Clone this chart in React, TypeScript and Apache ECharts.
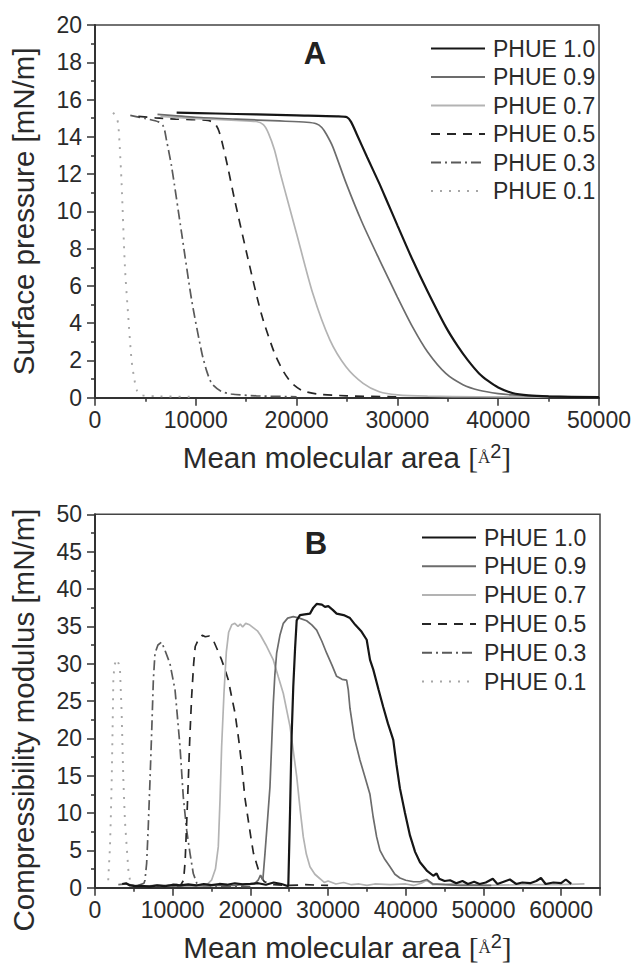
import React, { useEffect, useRef } from 'react';
import * as echarts from 'echarts';

const FONT = '"Liberation Sans", Arial, sans-serif';
const SERIF = '"Liberation Serif", "Times New Roman", serif';

const seriesNames = ['PHUE 1.0', 'PHUE 0.9', 'PHUE 0.7', 'PHUE 0.5', 'PHUE 0.3', 'PHUE 0.1'];

const xTicksA = [0, 10000, 20000, 30000, 40000, 50000];
const yTicksA = [0, 2, 4, 6, 8, 10, 12, 14, 16, 18, 20];
const xTicksB = [0, 10000, 20000, 30000, 40000, 50000, 60000];
const yTicksB = [0, 5, 10, 15, 20, 25, 30, 35, 40, 45, 50];

// Panel A: surface pressure isotherms [area, mN/m]
const phue10A = [[8100, 15.3], [12000, 15.25], [16000, 15.2], [20000, 15.15], [24000, 15.1], [25000, 15.05], [25400, 14.8], [26000, 14.1], [27000, 12.9], [28200, 11.5], [29000, 10.5], [30000, 9.25], [31500, 7.4], [33000, 5.7], [34800, 3.8], [36000, 2.75], [37000, 2.0], [38100, 1.3], [39000, 0.9], [40000, 0.55], [41400, 0.25], [43000, 0.12], [45000, 0.07], [50000, 0.03]];
const phue09A = [[6200, 15.2], [10000, 15.05], [14000, 14.95], [18300, 14.85], [21000, 14.78], [21950, 14.7], [22500, 14.5], [22940, 14.15], [23600, 13.45], [24920, 11.5], [26500, 9.4], [28220, 7.4], [30000, 5.4], [31500, 3.8], [33000, 2.45], [34800, 1.3], [36500, 0.7], [38100, 0.4], [40000, 0.22], [41400, 0.15], [44000, 0.08], [47000, 0.04]];
const phue07A = [[6500, 15.1], [10000, 14.98], [14000, 14.88], [16000, 14.82], [16700, 14.65], [17200, 14.2], [17800, 13.3], [18400, 12.0], [19100, 10.6], [20000, 8.8], [21600, 5.6], [23300, 3.1], [24900, 1.66], [26600, 0.77], [28200, 0.32], [30000, 0.15], [33000, 0.08], [38000, 0.05], [45000, 0.03]];
const phue05A = [[4300, 15.1], [6000, 15.02], [8000, 14.95], [11200, 14.88], [11900, 14.7], [12300, 14.3], [12700, 13.5], [13200, 12.3], [13860, 10.6], [15200, 7.4], [16500, 4.5], [17800, 2.4], [18700, 1.4], [19500, 0.8], [20500, 0.4], [22000, 0.2], [25000, 0.1], [30000, 0.05]];
const phue03A = [[3500, 15.15], [5000, 14.98], [6300, 14.8], [6800, 14.55], [7100, 13.8], [7600, 12.4], [8600, 8.8], [9600, 5.2], [10600, 2.4], [11100, 1.4], [11600, 0.75], [12500, 0.35], [13500, 0.2], [16000, 0.1], [20000, 0.05]];
const phue01A = [[1800, 15.3], [2150, 15.0], [2300, 14.7], [2450, 13.5], [2640, 11.5], [2970, 7.0], [3300, 4.35], [3630, 2.0], [3900, 1.0], [4150, 0.4], [4500, 0.15], [6000, 0.08], [10000, 0.05]];

// Panel B: compressibility modulus [area, mN/m]
const phue10B = [[3500, 0.5], [4000, 0.6], [4500, 0.3], [5200, 0.2], [6000, 0.25], [7000, 0.15], [8000, 0.3], [9000, 0.2], [10000, 0.4], [11000, 0.3], [12000, 0.45], [13000, 0.3], [14000, 0.5], [15000, 0.35], [16000, 0.5], [17000, 0.4], [18000, 0.6], [19000, 0.45], [20000, 0.5], [21000, 0.6], [22000, 0.4], [23000, 0.7], [24000, 0.5], [24880, 0.2], [25100, 10], [25300, 20], [25520, 26.9], [25750, 32], [25960, 35.8], [26380, 36.5], [27000, 36.6], [27670, 36.7], [28100, 37.5], [28530, 38.0], [29200, 37.9], [29600, 37.6], [30030, 37.7], [30600, 37.2], [31100, 36.7], [32000, 36.5], [32820, 36.1], [33500, 35.2], [34300, 34.3], [34970, 33.2], [35400, 30.5], [35820, 29.2], [36500, 26.5], [37100, 24.2], [37700, 22], [38390, 19.8], [38800, 16.5], [39250, 13.3], [39900, 10], [40540, 7.0], [41200, 4.8], [41830, 3.4], [42700, 2.3], [43540, 1.6], [43970, 1.9], [44300, 1.2], [45000, 0.9], [45700, 1.0], [46500, 0.6], [47300, 0.9], [48000, 0.5], [48800, 0.8], [49500, 0.5], [50300, 0.7], [51200, 1.2], [51800, 0.5], [52600, 0.8], [53400, 1.1], [54200, 0.5], [55000, 0.7], [56000, 0.6], [56800, 0.9], [57400, 1.3], [58000, 0.5], [59000, 0.7], [60000, 0.6], [60600, 1.1], [61300, 0.5]];
const phue09B = [[3000, 0.4], [4000, 0.5], [5000, 0.3], [6500, 0.2], [8000, 0.3], [10000, 0.2], [12000, 0.3], [14000, 0.25], [16000, 0.35], [18000, 0.3], [19500, 0.5], [20500, 0.5], [21000, 1.0], [21300, 1.7], [21600, 1.0], [21880, 4.6], [22200, 9], [22520, 13.5], [22750, 19.5], [22950, 24.7], [23150, 28.5], [23380, 31.4], [23800, 33.8], [24240, 35.4], [24800, 36.1], [25520, 36.3], [26300, 36.1], [27240, 35.75], [27900, 35.2], [28530, 34.5], [29200, 33.0], [29820, 31.4], [30500, 29.8], [31100, 28.3], [31800, 27.9], [32390, 27.8], [32600, 26.5], [32820, 24], [33400, 20], [34100, 17.1], [34700, 15], [35390, 12.5], [35800, 9.5], [36250, 6.8], [36680, 5.0], [37300, 3.8], [37970, 2.8], [38600, 1.8], [39250, 1.3], [40000, 1.0], [41000, 0.8], [41830, 0.8], [42690, 1.1], [43500, 0.5], [45000, 0.4], [47000, 0.3], [49000, 0.35], [51000, 0.3]];
const phue07B = [[8000, 0.2], [9500, 0.3], [10500, 0.5], [11000, 0.2], [12000, 0.3], [13000, 0.3], [14000, 0.4], [14500, 0.5], [15000, 1.0], [15500, 2.5], [15870, 5.5], [16100, 12], [16300, 18.9], [16600, 26], [16900, 31.5], [17200, 34.2], [17600, 35.2], [18000, 35.4], [18400, 35.0], [18700, 35.3], [19000, 34.9], [19400, 35.4], [19900, 35.2], [20400, 34.8], [20900, 34.4], [21300, 33.8], [22000, 32.5], [22950, 30.5], [23600, 28.2], [24240, 26], [25100, 21.6], [25500, 18.5], [25960, 14.9], [26400, 10.5], [26810, 6.8], [27200, 4.5], [27670, 2.8], [28300, 1.8], [28960, 1.2], [29500, 0.7], [30000, 0.9], [31000, 0.5], [32000, 0.7], [33000, 0.4], [34000, 0.5], [35000, 0.3], [36000, 0.5], [38000, 0.4], [40000, 0.5], [41000, 0.3], [42000, 0.6], [42700, 1.0], [43500, 0.4], [46000, 0.5], [50000, 0.3], [55000, 0.4], [60000, 0.4], [63000, 0.5]];
const phue05B = [[8500, 0.2], [9500, 0.3], [10500, 0.2], [11000, 0.3], [11400, 1], [11600, 3.5], [11850, 10], [12010, 14.4], [12200, 20], [12440, 25.6], [12700, 30], [12900, 32.3], [13300, 33.2], [13800, 33.8], [14200, 33.6], [14700, 33.7], [15200, 33.2], [15700, 32.0], [16300, 30.5], [16800, 29.0], [17160, 27.8], [17600, 25.5], [18020, 23.4], [18500, 19.8], [18880, 16.5], [19300, 12], [19730, 9.0], [20100, 6.5], [20400, 4.6], [20800, 3.2], [21240, 1.7], [21800, 0.8], [23000, 0.4], [25000, 0.3], [27000, 0.4], [30000, 0.3]];
const phue03B = [[5500, 0.3], [6300, 0.6], [6430, 1], [6650, 3.3], [6850, 8], [7080, 14.4], [7300, 21], [7510, 27.8], [7720, 31.4], [8100, 32.5], [8580, 32.9], [9000, 31.8], [9650, 30.0], [10300, 26.5], [10600, 23], [10940, 18.9], [11360, 12.2], [11800, 7.7], [12230, 4.6], [12650, 1.9], [13100, 0.6], [14000, 0.3], [16000, 0.2], [20000, 0.15]];
const phue01B = [[1700, 1.0], [1800, 3], [1930, 5.5], [2050, 10], [2150, 14.4], [2260, 21], [2360, 27.8], [2500, 29.8], [2790, 30.6], [3050, 30.0], [3220, 29.1], [3430, 23.4], [3650, 14.4], [3850, 9], [4080, 5.5], [4290, 2.4], [4500, 1.0], [4800, 0.5]];

const dataA = [phue10A, phue09A, phue07A, phue05A, phue03A, phue01A];
const dataB = [phue10B, phue09B, phue07B, phue05B, phue03B, phue01B];

const lineStyles: any[] = [
  { color: '#161616', width: 2.2, type: 'solid' },
  { color: '#6c6c6c', width: 1.7, type: 'solid' },
  { color: '#b3b3b3', width: 1.7, type: 'solid' },
  { color: '#262626', width: 1.7, type: [9, 7] },
  { color: '#5a5a5a', width: 1.7, type: [10, 4, 2, 4] },
  { color: '#a6a6a6', width: 1.9, type: [2, 7] },
];

function xAxisCfg(grid: number, max: number, ticks: number[], gap: number) {
  return {
    type: 'value', gridIndex: grid, min: ticks[0], max, interval: ticks[1] - ticks[0],
    axisLine: { show: true, onZero: false, lineStyle: { color: '#333', width: 2 } },
    axisTick: { show: true, inside: false, length: 8, lineStyle: { color: '#333', width: 1.5 } },
    minorTick: { show: true, splitNumber: 2, length: 4, lineStyle: { color: '#333', width: 1.5 } },
    splitLine: { show: false },
    axisLabel: {
      fontSize: 23, color: '#2a2a2a', fontFamily: FONT, margin: 11,
      showMaxLabel: max === ticks[ticks.length - 1],
      formatter: (v: number) => String(v),
    },
    name: '{a|Mean molecular area }{b|[}{c|Å}{s|2}{b|]}',
    nameLocation: 'middle', nameGap: gap,
    nameTextStyle: {
      fontSize: 29.5, color: '#2a2a2a', fontFamily: FONT,
      rich: {
        a: { fontSize: 29.5, fontFamily: FONT, color: '#2a2a2a' },
        b: { fontSize: 29.5, fontFamily: SERIF, color: '#2a2a2a' },
        c: { fontSize: 17, fontFamily: SERIF, color: '#2a2a2a' },
        s: { fontSize: 20, fontFamily: FONT, color: '#2a2a2a', padding: [0, 0, 14, 0] },
      },
    },
  };
}

function yAxisCfg(grid: number, ticks: number[], name: string, gap: number, pad: number[]) {
  return {
    type: 'value', gridIndex: grid, min: ticks[0], max: ticks[ticks.length - 1], interval: ticks[1] - ticks[0],
    axisLine: { show: true, onZero: false, lineStyle: { color: '#333', width: 2 } },
    axisTick: { show: true, inside: false, length: 8, lineStyle: { color: '#333', width: 1.5 } },
    minorTick: { show: true, splitNumber: 2, length: 4, lineStyle: { color: '#333', width: 1.5 } },
    splitLine: { show: false },
    axisLabel: { fontSize: 23, color: '#2a2a2a', fontFamily: FONT, margin: 13 },
    name, nameLocation: 'middle', nameGap: gap,
    nameTextStyle: { fontSize: 29.5, color: '#2a2a2a', fontFamily: FONT, padding: pad },
  };
}

function legendCfg(left: number, top: number, gap: number) {
  return {
    orient: 'vertical', left, top, itemWidth: 54, itemHeight: 14, itemGap: gap,
    selectedMode: false, data: seriesNames,
    itemStyle: { opacity: 0, borderWidth: 0 },
    textStyle: { fontSize: 23, color: '#2a2a2a', fontFamily: FONT, lineHeight: 22, padding: [0, 0, 0, 3] },
  };
}

export default function App() {
  const ref = useRef<HTMLDivElement>(null);
  useEffect(() => {
    document.body.style.margin = '0';
    if (!ref.current) return;
    const chart = echarts.init(ref.current, undefined, { renderer: 'svg' });
    const series: any[] = [];
    [dataA, dataB].forEach((set, g) => {
      for (let i = set.length - 1; i >= 0; i--) {
        series.push({
          type: 'line', name: seriesNames[i], xAxisIndex: g, yAxisIndex: g,
          data: set[i], symbol: 'none', showSymbol: false,
          smooth: g === 0 ? 0.25 : false,
          lineStyle: lineStyles[i], itemStyle: { color: lineStyles[i].color },
          z: 10 - i,
        });
      }
    });
    chart.setOption({
      animation: false,
      backgroundColor: '#ffffff',
      grid: [
        { left: 95, top: 25, width: 505, height: 372.7, show: true, borderColor: '#444', borderWidth: 1.5, backgroundColor: 'transparent' },
        { left: 95, top: 514.3, width: 505, height: 373.4, show: true, borderColor: '#444', borderWidth: 1.5, backgroundColor: 'transparent' },
      ],
      xAxis: [xAxisCfg(0, 50000, xTicksA, 43), xAxisCfg(1, 65000, xTicksB, 43)],
      yAxis: [
        yAxisCfg(0, yTicksA, 'Surface pressure [mN/m]', 57, [0, 0, 0, 0]),
        yAxisCfg(1, yTicksB, 'Compressibility modulus [mN/m]', 57, [0, 38, 0, 0]),
      ],
      legend: [legendCfg(425, 32, 5.5), legendCfg(416, 521, 5.8)],
      graphic: [
        { type: 'text', x: 315, y: 53, style: { text: 'A', align: 'center', verticalAlign: 'middle', fontSize: 31, fontWeight: 'bold', fontFamily: FONT, fill: '#222' } },
        { type: 'text', x: 316, y: 543, style: { text: 'B', align: 'center', verticalAlign: 'middle', fontSize: 31, fontWeight: 'bold', fontFamily: FONT, fill: '#222' } },
      ],
      series,
    });
    return () => chart.dispose();
  }, []);
  return <div ref={ref} style={{ width: 634, height: 965 }} />;
}
